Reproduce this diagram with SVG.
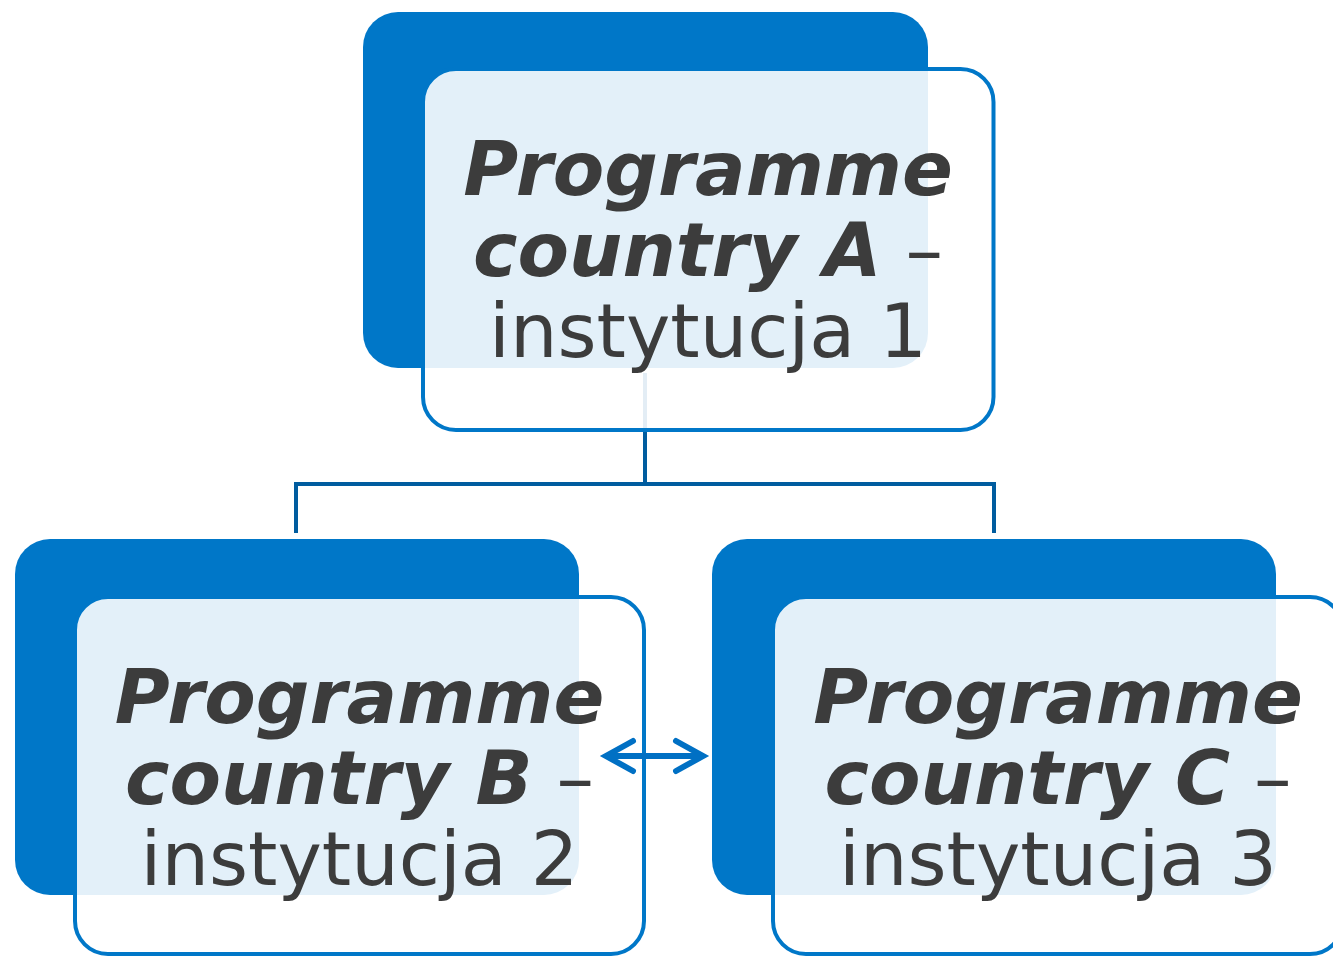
<svg xmlns="http://www.w3.org/2000/svg" width="1333" height="957" viewBox="0 0 1333 957">
<style>
.back{fill:#0077C8}
.front{fill:#FFFFFF;fill-opacity:0.89;stroke:#0077C8;stroke-width:4}
.t{font-family:"DejaVu Sans",Verdana,sans-serif;font-size:75px;fill:#3C3C3C;text-anchor:middle}
.b{font-weight:bold;font-style:italic}
.r{font-weight:normal;font-style:normal}
.conn{fill:none;stroke:#005C9F;stroke-width:4}
.arr{fill:none;stroke:#0070C4;stroke-width:6;stroke-linecap:round;stroke-linejoin:miter}
</style>
<rect width="1333" height="957" fill="#FFFFFF"/>
<g id="connectors">
<path class="conn" d="M645,373 V484 M296,533 V484 H994 V533"/>
</g>
<g id="nodeA">
<rect class="back" x="363" y="12" width="565" height="356" rx="35"/>
<rect class="front" x="423" y="69" width="570.5" height="361" rx="33"/>
<text class="t" x="708" y="195"><tspan class="b">Programme</tspan></text>
<text class="t" x="708" y="276"><tspan class="b">country A</tspan><tspan class="r"> –</tspan></text>
<text class="t" x="708" y="357">instytucja 1</text>
</g>
<g id="nodeB">
<rect class="back" x="15" y="539" width="564" height="356" rx="35"/>
<rect class="front" x="75" y="597" width="569" height="357" rx="33"/>
<text class="t" x="359.5" y="723"><tspan class="b">Programme</tspan></text>
<text class="t" x="359.5" y="804"><tspan class="b">country B</tspan><tspan class="r"> –</tspan></text>
<text class="t" x="359.5" y="885">instytucja 2</text>
</g>
<g id="nodeC">
<rect class="back" x="712" y="539" width="564" height="356" rx="35"/>
<rect class="front" x="773" y="597" width="570" height="357" rx="33"/>
<text class="t" x="1058" y="723"><tspan class="b">Programme</tspan></text>
<text class="t" x="1058" y="804"><tspan class="b">country C</tspan><tspan class="r"> –</tspan></text>
<text class="t" x="1058" y="885">instytucja 3</text>
</g>
<g id="arrow">
<path class="arr" d="M607,756 H702 M633,741 L606,756 L633,771 M676,741 L703,756 L676,771"/>
</g>
</svg>
